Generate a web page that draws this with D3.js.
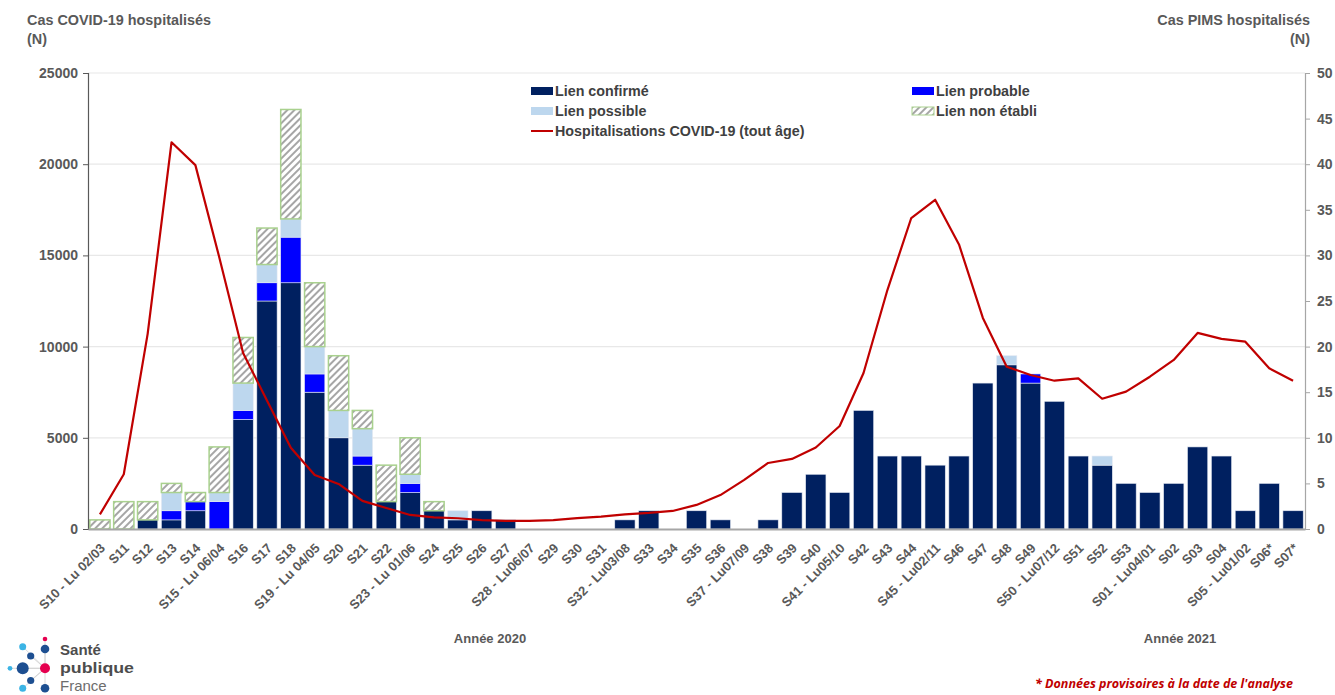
<!DOCTYPE html>
<html>
<head>
<meta charset="utf-8">
<script src="https://cdn.jsdelivr.net/npm/d3@7"></script>
<style>
  html, body { margin: 0; padding: 0; background: #fff; }
  svg { display: block; font-family: "Liberation Sans", Arial, sans-serif; }
</style>
</head>
<body>
<svg id="chart" width="1335" height="695"></svg>
<script>
// ---- Data ----
const weeks = ["S10 - Lu 02/03","S11","S12","S13","S14","S15 - Lu 06/04","S16","S17","S18","S19 - Lu 04/05","S20","S21","S22","S23 - Lu 01/06","S24","S25","S26","S27","S28 - Lu06/07","S29","S30","S31","S32 - Lu03/08","S33","S34","S35","S36","S37 - Lu07/09","S38","S39","S40","S41 - Lu05/10","S42","S43","S44","S45 - Lu02/11","S46","S47","S48","S49","S50 - Lu07/12","S51","S52","S53","S01 - Lu04/01","S02","S03","S04","S05 - Lu01/02","S06*","S07*"];

// PIMS cases (right axis)
const lienConfirme  = [0,0,1,1,2,0,12,25,27,15,10,7,3,4,2,1,2,1,0,0,0,0,1,2,0,2,1,0,1,4,6,4,13,8,8,7,8,16,18,16,14,8,7,5,4,5,9,8,2,5,2];
const lienProbable  = [0,0,0,1,1,3,1,2,5,2,0,1,0,1,0,0,0,0,0,0,0,0,0,0,0,0,0,0,0,0,0,0,0,0,0,0,0,0,0,1,0,0,0,0,0,0,0,0,0,0,0];
const lienPossible  = [0,0,0,2,0,1,3,2,2,3,3,3,0,1,0,1,0,0,0,0,0,0,0,0,0,0,0,0,0,0,0,0,0,0,0,0,0,0,1,0,0,0,1,0,0,0,0,0,0,0,0];
const lienNonEtabli = [1,3,2,1,1,5,5,4,12,7,6,2,4,4,1,0,0,0,0,0,0,0,0,0,0,0,0,0,0,0,0,0,0,0,0,0,0,0,0,0,0,0,0,0,0,0,0,0,0,0,0];

// COVID-19 hospitalisations (left axis)
const hospCovid = [800,3000,10700,21200,19950,14900,9650,7050,4450,2960,2470,1540,1150,770,640,590,490,440,440,490,600,680,800,880,990,1320,1860,2690,3620,3840,4470,5650,8550,13100,17050,18050,15600,11570,8900,8440,8130,8260,7140,7530,8350,9270,10750,10420,10270,8810,8130];

const leftTicks  = [0,5000,10000,15000,20000,25000];
const rightTicks = [0,5,10,15,20,25,30,35,40,45,50];

const seriesKeys   = ["confirme","probable","possible","nonEtabli"];
const seriesLabels = {confirme:"Lien confirmé", probable:"Lien probable", possible:"Lien possible", nonEtabli:"Lien non établi"};
const lineLabel = "Hospitalisations COVID-19 (tout âge)";

// ---- Build ----
const rows = weeks.map((w,i)=>({week:w, confirme:lienConfirme[i], probable:lienProbable[i], possible:lienPossible[i], nonEtabli:lienNonEtabli[i]}));

const svg = d3.select("#chart");
const gray = "#595959";
const colors = {confirme:"#002060", probable:"#0000ff", possible:"#bdd7ee", nonEtabli:"url(#hatch)"};

const defs = svg.append("defs");
const pat = defs.append("pattern").attr("id","hatch").attr("patternUnits","userSpaceOnUse")
  .attr("width",5).attr("height",5).attr("patternTransform","rotate(45)");
pat.append("rect").attr("width",5).attr("height",5).attr("fill","#fff");
pat.append("line").attr("x1",1).attr("y1",0).attr("x2",1).attr("y2",5).attr("stroke","#a6a6a6").attr("stroke-width",2);

const pLeft = 88, pRight = 1305, pTop = 73, pBottom = 529;

const x = d3.scaleBand().domain(weeks).range([pLeft,pRight]).paddingInner(0.15).paddingOuter(0.075);
const yL = d3.scaleLinear().domain([0,25000]).range([pBottom,pTop]);
const yR = d3.scaleLinear().domain([0,50]).range([pBottom,pTop]);

// gridlines
svg.append("g").selectAll("line").data(leftTicks.filter(d=>d>0)).join("line")
  .attr("x1",pLeft).attr("x2",pRight).attr("y1",d=>yL(d)).attr("y2",d=>yL(d))
  .attr("stroke","#e8e8e8").attr("stroke-width",1.2);

// stacked bars
const stack = d3.stack().keys(seriesKeys)(rows);
const gBars = svg.append("g");
stack.forEach(layer=>{
  const key = layer.key;
  gBars.append("g").selectAll("rect").data(layer.filter(d=>d[1]-d[0]>0)).join("rect")
    .attr("x",d=>x(d.data.week))
    .attr("width",x.bandwidth())
    .attr("y",d=>yR(d[1]))
    .attr("height",d=>yR(d[0])-yR(d[1]))
    .attr("fill",colors[key])
    .attr("stroke", key==="nonEtabli" ? "#a9d18e" : "#e4e9f2")
    .attr("stroke-width", key==="nonEtabli" ? 1.5 : 0.6);
});

// left axis
const axL = d3.axisLeft(yL).tickValues(leftTicks).tickSize(5).tickPadding(5).tickFormat(d3.format("d"));
const gL = svg.append("g").attr("transform",`translate(${pLeft},0)`).call(axL);
gL.select(".domain").attr("stroke",gray).attr("stroke-width",1.2);
gL.selectAll(".tick line").attr("stroke",gray);
gL.selectAll(".tick text").attr("fill",gray).attr("font-size",14).attr("font-weight","bold")
  .attr("font-family","'Liberation Sans', Arial, sans-serif");

// right axis
const axR = d3.axisRight(yR).tickValues(rightTicks).tickSize(5).tickPadding(7);
const gR = svg.append("g").attr("transform",`translate(${pRight},0)`).call(axR);
gR.select(".domain").attr("stroke","#a6a6a6").attr("stroke-width",1.2);
gR.selectAll(".tick line").attr("stroke","#a6a6a6");
gR.selectAll(".tick text").attr("fill",gray).attr("font-size",14).attr("font-weight","bold")
  .attr("font-family","'Liberation Sans', Arial, sans-serif");

// x axis
const axX = d3.axisBottom(x).tickSize(0).tickPadding(0);
const gX = svg.append("g").attr("transform",`translate(0,${pBottom})`).call(axX);
gX.select(".domain").attr("stroke","#a6a6a6").attr("stroke-width",2.2);
gX.selectAll(".tick text")
  .attr("fill",gray).attr("font-size",13).attr("font-weight","bold")
  .attr("font-family","'Liberation Sans', Arial, sans-serif")
  .attr("text-anchor","end").attr("dy",null).attr("y",0)
  .attr("transform","translate(6,20) rotate(-45)");

// line
const line = d3.line().x((d,i)=>x(weeks[i])+x.bandwidth()/2).y(d=>yL(d));
svg.append("path").datum(hospCovid).attr("d",line)
  .attr("fill","none").attr("stroke","#c00000").attr("stroke-width",2.2).attr("stroke-linejoin","round");

// axis titles
const tTitle = svg.append("g").attr("fill",gray).attr("font-size",14.4).attr("font-weight","bold");
tTitle.append("text").attr("x",27).attr("y",25).text("Cas COVID-19 hospitalisés");
tTitle.append("text").attr("x",27).attr("y",44).text("(N)");
tTitle.append("text").attr("x",1310).attr("y",25).attr("text-anchor","end").text("Cas PIMS hospitalisés");
tTitle.append("text").attr("x",1310).attr("y",44).attr("text-anchor","end").text("(N)");

// year labels
const yrs = svg.append("g").attr("fill",gray).attr("font-size",13).attr("font-weight","bold").attr("text-anchor","middle");
yrs.append("text").attr("x",490).attr("y",643).text("Année 2020");
yrs.append("text").attr("x",1180).attr("y",643).text("Année 2021");

// legend
const legend = svg.append("g").attr("font-size",14.3).attr("font-weight","bold").attr("fill","#404040");
const legItems = [
  {key:"confirme", x:531, y:91},
  {key:"probable", x:912, y:91},
  {key:"possible", x:531, y:111},
  {key:"nonEtabli", x:912, y:111}
];
legItems.forEach(it=>{
  legend.append("rect").attr("x",it.x).attr("y",it.y-4).attr("width",22).attr("height",8)
    .attr("fill",colors[it.key])
    .attr("stroke", it.key==="nonEtabli" ? "#a9d18e" : "none").attr("stroke-width",1);
  legend.append("text").attr("x",it.x+24).attr("y",it.y+5).text(seriesLabels[it.key]);
});
legend.append("line").attr("x1",531).attr("x2",553).attr("y1",131).attr("y2",131).attr("stroke","#c00000").attr("stroke-width",2);
legend.append("text").attr("x",555).attr("y",136).text(lineLabel);

// footnote
svg.append("text").attr("x",1293).attr("y",688).attr("text-anchor","end")
  .attr("fill","#c00000").attr("font-size",13).attr("font-style","italic").attr("font-weight","bold")
  .attr("font-family","'Open Sans', 'Liberation Sans', sans-serif")
  .attr("textLength",258).attr("lengthAdjust","spacingAndGlyphs")
  .text("* Données provisoires à la date de l'analyse");

// logo
const logo = svg.append("g");
const center = [45,668.3];
const dots = [
  {x:45,y:639,r:2.3,c:"#e5004f"},
  {x:45,y:649,r:4.3,c:"#1d4f91"},
  {x:22.7,y:646.7,r:3.5,c:"#3cb4e5"},
  {x:30.7,y:656,r:3.6,c:"#1d4f91"},
  {x:22.7,y:668.3,r:6,c:"#1d4f91"},
  {x:10,y:668.3,r:2.4,c:"#3cb4e5"},
  {x:30.7,y:680.5,r:3.6,c:"#1d4f91"},
  {x:22.7,y:688.3,r:3.5,c:"#3cb4e5"},
  {x:45,y:688.3,r:4.3,c:"#1d4f91"}
];
dots.forEach(d=>{
  logo.append("line").attr("x1",center[0]).attr("y1",center[1]).attr("x2",d.x).attr("y2",d.y)
    .attr("stroke","#d0d0d0").attr("stroke-width",0.8);
});
dots.forEach(d=>{ logo.append("circle").attr("cx",d.x).attr("cy",d.y).attr("r",d.r).attr("fill",d.c); });
logo.append("circle").attr("cx",center[0]).attr("cy",center[1]).attr("r",5).attr("fill","#e5004f");
logo.append("text").attr("x",60).attr("y",655).attr("font-size",15.5).attr("font-weight","bold").attr("fill","#4d4d4d")
  .attr("textLength",41).attr("lengthAdjust","spacingAndGlyphs").text("Santé");
logo.append("text").attr("x",60).attr("y",673).attr("font-size",15.5).attr("font-weight","bold").attr("fill","#4d4d4d")
  .attr("textLength",74).attr("lengthAdjust","spacingAndGlyphs").text("publique");
logo.append("text").attr("x",60).attr("y",691).attr("font-size",15).attr("fill","#6d6d6d").text("France");
</script>
</body>
</html>
